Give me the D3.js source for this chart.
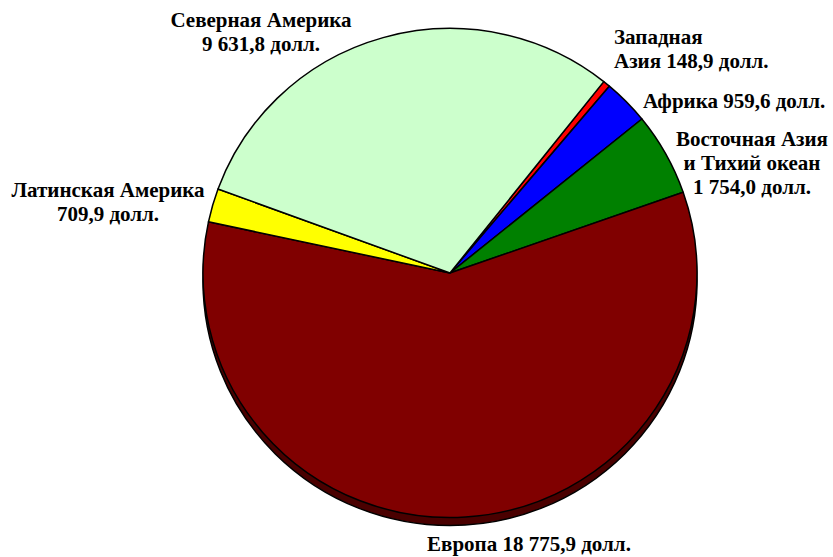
<!DOCTYPE html>
<html>
<head>
<meta charset="utf-8">
<script src="https://cdnjs.cloudflare.com/ajax/libs/d3/7.8.5/d3.min.js"></script>
<style>
    body { margin: 0; background: #ffffff; }
    .label { font-family: "Times New Roman", "Liberation Serif", serif; font-weight: bold; font-size: 21px; fill: #000000; }
</style>
</head>
<body>
<div id="chart"></div>
<script>
var regions = ["Западная Азия", "Африка", "Восточная Азия и Тихий океан", "Европа", "Латинская Америка", "Северная Америка"];
var values = [148.9, 959.6, 1754.0, 18775.9, 709.9, 9631.8];
var sliceColors = ["#ff0000", "#0000ff", "#008000", "#800000", "#ffff00", "#ccffcc"];
var labelLines = [
    ["Западная", "Азия 148,9 долл."],
    ["Африка 959,6 долл."],
    ["Восточная Азия", "и Тихий океан", "1 754,0 долл."],
    ["Европа 18 775,9 долл."],
    ["Латинская Америка", "709,9 долл."],
    ["Северная Америка", "9 631,8 долл."]
];

function init() {
    var w = 833;
    var h = 557;
    var cx = 450, cy = 273;
    var r = 247;
    var shadowDy = 8;
    var lineHeight = 24;

    // where each label block sits (anchor, x, first baseline)
    var labelPos = [
        { anchor: "start", x: 614, y: 44 },
        { anchor: "start", x: 643, y: 108 },
        { anchor: "middle", x: 752, y: 146 },
        { anchor: "middle", x: 529, y: 551 },
        { anchor: "middle", x: 108, y: 197 },
        { anchor: "middle", x: 261, y: 27 }
    ];

    var dataset = regions.map(function(d, i) {
        return { name: d, value: values[i], color: sliceColors[i], lines: labelLines[i] };
    });

    var start = 38.5 * Math.PI / 180;
    var pie = d3.pie()
        .sort(null)
        .value(function(d) { return d.value; })
        .startAngle(start)
        .endAngle(start + 2 * Math.PI);

    var arc = d3.arc()
        .innerRadius(0)
        .outerRadius(r);

    var svg = d3.select("#chart")
        .append("svg")
        .attr("width", w)
        .attr("height", h);

    // flat shadow under the pie, shifted down
    svg.append("path")
        .attr("transform", "translate(" + cx + "," + (cy + shadowDy) + ") scale(1,0.99)")
        .attr("d", d3.arc().innerRadius(0).outerRadius(r)({ startAngle: 0, endAngle: 2 * Math.PI }))
        .style("fill", "#4a0000")
        .style("stroke", "#000000")
        .style("stroke-width", 1.5);

    var g = svg.append("g")
        .attr("transform", "translate(" + cx + "," + cy + ") scale(1,0.99)");

    g.selectAll("path.slice")
        .data(pie(dataset))
        .enter()
        .append("path")
        .attr("class", "slice")
        .attr("d", arc)
        .style("fill", function(d) { return d.data.color; })
        .style("stroke", "#000000")
        .style("stroke-width", 1.5)
        .style("stroke-linejoin", "round");

    // labels
    var labels = svg.selectAll("text.label")
        .data(dataset)
        .enter()
        .append("text")
        .attr("class", "label")
        .attr("text-anchor", function(d, i) { return labelPos[i].anchor; });

    labels.each(function(d, i) {
        var t = d3.select(this);
        d.lines.forEach(function(line, j) {
            t.append("tspan")
                .attr("x", labelPos[i].x)
                .attr("y", labelPos[i].y + j * lineHeight)
                .text(line);
        });
    });
}

window.onload = init;
</script>
</body>
</html>
